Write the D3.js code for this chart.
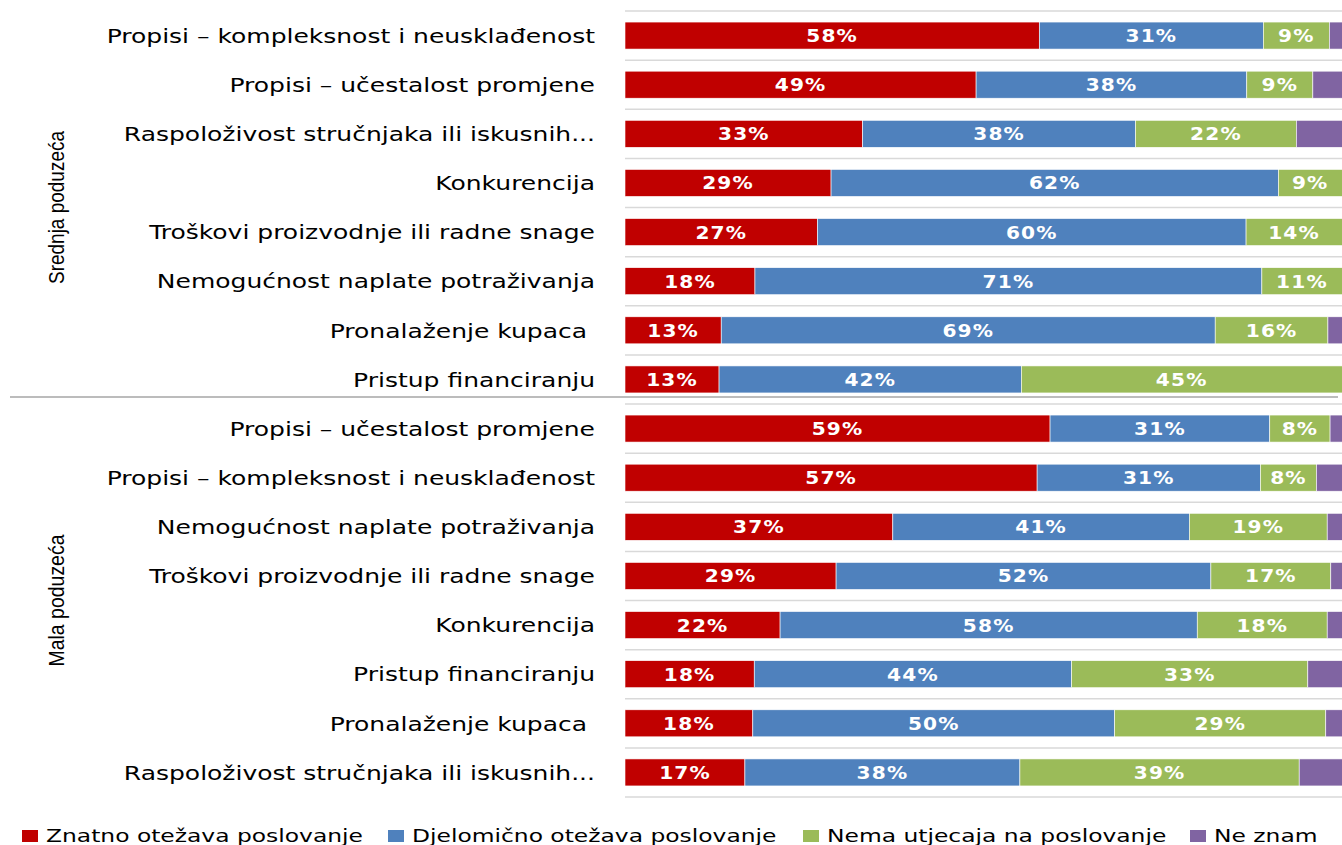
<!DOCTYPE html>
<html>
<head>
<meta charset="utf-8">
<script src="https://cdn.jsdelivr.net/npm/d3@7/dist/d3.min.js"></script>
<style>
  body { margin: 0; background: #fff; }
  svg { display: block; }
</style>
</head>
<body>
<svg id="chart" width="1342" height="845"></svg>
<script>
// groups and row labels (top to bottom)
var groups = ['Srednja poduzeća', 'Mala poduzeća'];
var srednjaCategories = [
  'Propisi – kompleksnost i neusklađenost',
  'Propisi – učestalost promjene',
  'Raspoloživost stručnjaka ili iskusnih...',
  'Konkurencija',
  'Troškovi proizvodnje ili radne snage',
  'Nemogućnost naplate potraživanja',
  'Pronalaženje kupaca ',
  'Pristup financiranju'
];
var malaCategories = [
  'Propisi – učestalost promjene',
  'Propisi – kompleksnost i neusklađenost',
  'Nemogućnost naplate potraživanja',
  'Troškovi proizvodnje ili radne snage',
  'Konkurencija',
  'Pristup financiranju',
  'Pronalaženje kupaca ',
  'Raspoloživost stručnjaka ili iskusnih...'
];

var seriesNames = ['Znatno otežava poslovanje', 'Djelomično otežava poslovanje', 'Nema utjecaja na poslovanje', 'Ne znam'];
var seriesColors = ['#c00000', '#4f81bd', '#9bbb59', '#8064a2'];

// values in %, srednja rows first then mala rows
var znatno     = [57.7, 48.9, 33.1, 28.7, 26.8, 18.1, 13.4, 13.1,  59.2, 57.4, 37.3, 29.4, 21.6, 18.0, 17.8, 16.7];
var djelomicno = [31.2, 37.7, 38.0, 62.3, 59.7, 70.6, 68.8, 42.1,  30.6, 31.1, 41.3, 52.2, 58.1, 44.2, 50.4, 38.3];
var nema       = [ 9.2,  9.2, 22.4,  9.0, 13.5, 11.3, 15.7, 44.8,   8.4,  7.8, 19.2, 16.7, 18.1, 32.9, 29.4, 38.9];
var neZnam     = [ 1.9,  4.2,  6.5,  0.0,  0.0,  0.0,  2.1,  0.0,   1.8,  3.7,  2.2,  1.7,  2.2,  4.9,  2.4,  6.1];

var categories = srednjaCategories.concat(malaCategories);
var rows = categories.map(function(c, i) {
  return { id: i, label: c, values: [znatno[i], djelomicno[i], nema[i], neZnam[i]] };
});

var svg = d3.select('#chart'),
  margin = { top: 11, left: 625 },
  plotRight = 1343,
  plotBottom = 797,
  stretch = 1.25; // the original picture is wider than tall fonts

var x = d3.scaleLinear().domain([0, 100]).range([margin.left, plotRight]);
var y = d3
  .scaleBand()
  .domain(rows.map(d => d.id))
  .range([margin.top, plotBottom])
  .paddingInner(0.45)
  .paddingOuter(0.225);

var step = y.step();

// horizontal grid lines between rows
svg
  .append('g')
  .selectAll('line')
  .data(d3.range(rows.length + 1))
  .enter()
  .append('line')
  .attr('x1', margin.left)
  .attr('x2', 1342)
  .attr('y1', i => margin.top + i * step)
  .attr('y2', i => margin.top + i * step)
  .attr('stroke', '#d9d9d9')
  .attr('stroke-width', 1.5);

// group separator
svg
  .append('line')
  .attr('x1', 10)
  .attr('x2', 1338)
  .attr('y1', margin.top + 8 * step - 7)
  .attr('y2', margin.top + 8 * step - 7)
  .attr('stroke', '#a6a6a6')
  .attr('stroke-width', 1.5);

// stacked segments
var segs = [];
rows.forEach(function(r) {
  var acc = 0;
  r.values.forEach(function(v, k) {
    segs.push({ row: r.id, k: k, x0: acc, x1: acc + v, v: v });
    acc += v;
  });
});

var g = svg.append('g');
g
  .selectAll('rect')
  .data(segs)
  .enter()
  .append('rect')
  .attr('x', d => x(d.x0))
  .attr('y', d => y(d.row))
  .attr('width', d => x(d.x1) - x(d.x0))
  .attr('height', y.bandwidth())
  .attr('fill', d => seriesColors[d.k])
  .attr('stroke', '#fff')
  .attr('stroke-width', 0.6);

g
  .selectAll('text')
  .data(segs.filter(d => d.k < 3 && d.v >= 7))
  .enter()
  .append('text')
  .attr('transform', d =>
    'translate(' + (x(d.x0) + Math.min(x(d.x1), 1342)) / 2 + ',' + (y(d.row) + y.bandwidth() / 2) + ') scale(1.12,1)')
  .attr('dy', '0.36em')
  .attr('text-anchor', 'middle')
  .attr('fill', '#fff')
  .style('font-family', 'DejaVu Sans, sans-serif')
  .style('font-weight', 'bold')
  .style('font-size', '18px')
  .style('letter-spacing', '1px')
  .text(d => Math.round(d.v) + '%');

// category labels
svg
  .append('g')
  .selectAll('text')
  .data(rows)
  .enter()
  .append('text')
  .attr('transform', d => 'translate(595,' + (y(d.id) + y.bandwidth() / 2) + ') scale(' + stretch + ',1)')
  .attr('dy', '0.36em')
  .attr('text-anchor', 'end')
  .attr('fill', '#000')
  .style('font-family', 'DejaVu Sans, sans-serif')
  .style('font-size', '20px')
  .style('white-space', 'pre')
  .text(d => d.label);

// group labels (rotated)
var groupLen = [153, 132];
groups.forEach(function(name, gi) {
  var cy = margin.top + (gi * 8 + 4) * step;
  svg
    .append('text')
    .attr('transform', 'translate(64,' + cy + ') rotate(-90)')
    .attr('text-anchor', 'middle')
    .attr('textLength', groupLen[gi])
    .attr('lengthAdjust', 'spacingAndGlyphs')
    .style('font-family', 'Liberation Sans Narrow, Liberation Sans, sans-serif')
    .style('font-size', '22px')
    .attr('fill', '#000')
    .text(name);
});

// legend
var legendX = [22, 388, 803, 1190];
var legend = svg
  .append('g')
  .selectAll('g')
  .data(seriesNames)
  .enter()
  .append('g')
  .attr('transform', (d, i) => 'translate(' + legendX[i] + ',830)');

legend
  .append('rect')
  .attr('width', 16)
  .attr('height', 12)
  .attr('fill', (d, i) => seriesColors[i]);

legend
  .append('text')
  .attr('transform', 'translate(24,12) scale(1.3,1)')
  .style('font-family', 'DejaVu Sans, sans-serif')
  .style('font-size', '18px')
  .attr('fill', '#000')
  .text(d => d);
</script>
</body>
</html>
